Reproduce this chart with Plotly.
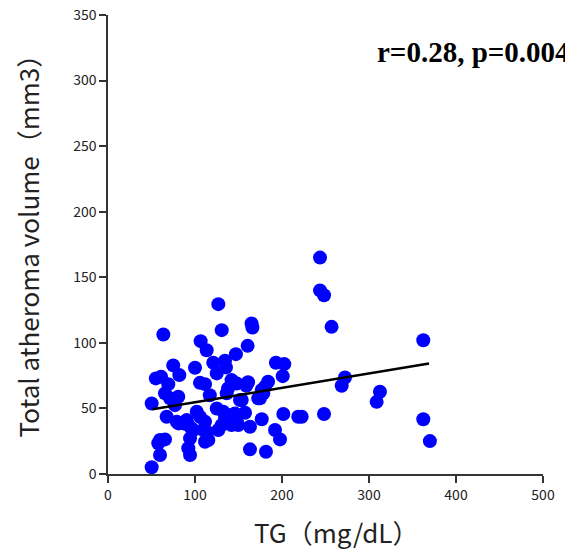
import plotly.graph_objects as go

tg = [126.8, 63.6, 130.7, 165, 166, 106.5, 113.4, 160.5, 147, 75,
      82, 100, 121, 134.5, 135.6, 125, 193, 202.6, 200.8, 55,
      61, 69.3, 105.7, 111.5, 142, 148, 159, 184, 180.5, 65.5,
      80.8, 71.3, 138, 136.4, 50.2, 77, 153.7, 174.7, 178.5, 67.4,
      102, 105.7, 132.5, 134.5, 146, 148, 157.5, 201.5, 218.7, 79,
      86.6, 92.3, 98, 111.5, 109.5, 126.8, 142, 149.8, 163.2, 176.7,
      192, 197.7, 59.8, 65.5, 57.8, 59.8, 50.2, 94.3, 92.3, 94.3,
      115.3, 163.2, 181.6, 243.7, 243.7, 248.3, 257, 362.4, 272.4, 268.6,
      312.6, 308.8, 362.4, 370, 248.3, 222.6, 117, 125, 113.4, 96,
      111.5, 90.4, 81, 161, 172.7, 176.7, 143.9, 130.7, 138, 151.7]
tav = [129.5, 106.4, 109.7, 114.8, 111.7, 101.3, 94.4, 97.7, 91.4, 82.8,
       75.4, 81, 84.8, 86.3, 81.3, 76.7, 84.8, 83.8, 74.6, 72.9,
       74.1, 68.5, 69.5, 68.5, 71.6, 69, 67.3, 70.3, 66.5, 61.5,
       58.9, 57.7, 65.3, 61.5, 53.8, 52.5, 56.4, 57.7, 61.5, 43.6,
       47.5, 43.6, 47.5, 42.4, 46.2, 39.8, 46.7, 45.7, 43.6, 39.8,
       38.6, 37.3, 33.5, 39.8, 33.5, 33.5, 37.3, 37.3, 36, 41.7,
       33.5, 26.4, 25.9, 26.4, 23.4, 14.5, 5.1, 27.2, 19.6, 14.5,
       25.9, 18.8, 17, 165, 140, 136.3, 112.2, 102, 73.6, 67.3,
       62.7, 55, 41.7, 25.1, 45.7, 43.6, 60, 50, 32.2, 34.8,
       24.6, 41.1, 38.6, 70, 57.7, 64, 70.3, 37.3, 45, 56.4]

fit_x = [51, 369]
fit_y = [49.3, 84.3]

x_ticks = [0, 100, 200, 300, 400, 500]
y_ticks = [0, 50, 100, 150, 200, 250, 300, 350]

fig = go.Figure()
fig.add_trace(go.Scatter(x=tg, y=tav, mode="markers",
                         marker=dict(color="#0000FF", size=14, line=dict(width=0)),
                         showlegend=False, cliponaxis=False))
fig.add_trace(go.Scatter(x=fit_x, y=fit_y, mode="lines",
                         line=dict(color="black", width=2.5), showlegend=False))

tick_font = dict(family="Noto Sans CJK JP", size=14, color="#222")
title_font = dict(family="Noto Sans CJK JP", size=26, color="#222")
fig.update_layout(
    width=565, height=552,
    margin=dict(l=108, r=22, t=15, b=78),
    plot_bgcolor="white", paper_bgcolor="white",
    xaxis=dict(range=[0, 500], tickvals=x_ticks, ticks="outside", ticklen=7,
               tickwidth=1.5, tickcolor="#333", showline=True, linecolor="#333",
               linewidth=1.5, showgrid=False, zeroline=False, tickfont=tick_font,
               automargin=False, ticklabeloverflow="allow"),
    yaxis=dict(range=[0, 350], tickvals=y_ticks, ticks="outside", ticklen=7,
               tickwidth=1.5, tickcolor="#333", showline=True, linecolor="#333",
               linewidth=1.5, showgrid=False, zeroline=False, tickfont=tick_font,
               automargin=False, ticklabeloverflow="allow"),
    annotations=[
        dict(text="<b>r=0.28, p=0.004</b>", xref="paper", yref="paper",
             x=0.614, y=0.919, xanchor="left", yanchor="middle", showarrow=False,
             font=dict(family="Liberation Serif", size=29, color="black")),
        dict(text="TG（mg/dL）", xref="paper", yref="paper",
             x=0.525, y=-0.126, xanchor="center", yanchor="middle", showarrow=False,
             font=title_font),
        dict(text="Total atheroma volume（mm3）", xref="paper", yref="paper",
             x=-0.185, y=0.51, xanchor="center", yanchor="middle", showarrow=False,
             textangle=-90, font=title_font),
    ],
)
fig.write_html("out.html", config={"displayModeBar": False},
               post_script="document.body.style.margin='0';")
